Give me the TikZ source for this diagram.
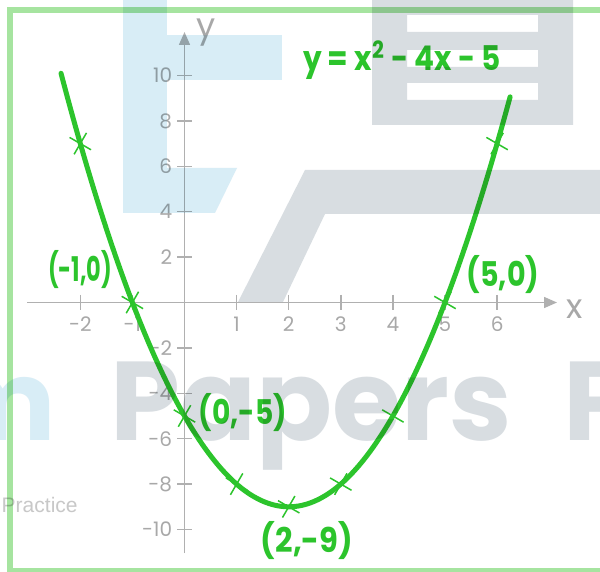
\documentclass[tikz,border=0pt]{standalone}
\usepackage{fontspec}
\setmainfont{Poppins}
\newfontfamily\arialfont{Liberation Sans}
\usetikzlibrary{arrows.meta,shapes.misc}
\definecolor{cgreen}{RGB}{44,196,44}
\definecolor{frameg}{RGB}{166,228,160}
\definecolor{axisg}{RGB}{176,176,176}
\definecolor{labg}{RGB}{168,168,168}
\definecolor{wblue}{RGB}{216,237,246}
\definecolor{wgray}{RGB}{216,221,225}
\definecolor{wtext}{RGB}{200,200,200}
\tikzset{
  axisline/.style={draw=axisg, line width=0.75pt},
  axisarrow/.style={axisline, -{Triangle[length=6.5pt,width=5.5pt]}},
  ticklab/.style={text=labg, font=\fontsize{10}{12}\selectfont, inner sep=0pt},
  axislab/.style={text=labg, font=\fontsize{17}{20}\selectfont, inner sep=0pt},
  curveline/.style={draw=cgreen, line width=2.5pt, line cap=round},
  crossmk/.style={cross out, draw=cgreen, line width=0.75pt, minimum size=8pt, inner sep=0pt, rotate=15},
  ptlab/.style={text=cgreen, font=\fontsize{17}{20}\selectfont\bfseries, inner sep=0pt},
  framebox/.style={draw=frameg, line width=3pt},
}
\begin{document}
\begin{tikzpicture}[x=0.5pt,y=-0.5pt]
\useasboundingbox (0,0) rectangle (600,572);
\clip (0,0) rectangle (600,572);
\fill[white] (0,0) rectangle (600,572);
% frame
\draw[framebox] (10,10) rectangle (620,571);
% axes
\coordinate (xs) at (27,302.5);
\coordinate (xe) at (557,302.5);
\coordinate (ys) at (184.5,553);
\coordinate (ye) at (184.5,32);
\draw[axisarrow] (xs) -- (xe);
\draw[axisarrow] (ys) -- (ye);
\node[axislab] (xlab) at (575,309) {x};
\node[axislab] (ylab) at (206,33) {y};
\begin{scope}[shift={(184.5,302.5)}, x=26.05pt, y=11.35pt]
  \foreach \i in {-2,-1,1,2,3,4,5,6}{
    \draw[axisline] (\i,0) ++(0pt,3.75pt) -- ++(0pt,-7.5pt);
    \node[ticklab] (xt\i) at (\i,0) [yshift=-11pt] {\i};
  }
  \foreach \j in {-10,-8,-6,-4,-2,2,4,6,8,10}{
    \draw[axisline] (0,\j) ++(-3.75pt,0pt) -- ++(7.5pt,0pt);
    \node[ticklab, anchor=east] (yt\j) at (0,\j) [xshift=-6pt] {\j};
  }
  \draw[curveline] plot[domain=-2.37:6.25, samples=120, smooth] (\x,{\x*\x-4*\x-5});
  \foreach \p/\q in {-2/7,-1/0,0/-5,1/-8,2/-9,3/-8,4/-5,5/0,6/7}{
    \node[crossmk] (c\p) at (\p,\q) {};
  }
\end{scope}
% point labels
\node[ptlab] (l1) at (80,270) {\scalebox{0.66}[1]{(-1,0)}};
\node[ptlab] (l2) at (503,275) {\scalebox{0.84}[1]{(5,0)}};
\node[ptlab] (l3) at (243,413) {\scalebox{0.83}[1]{(0,-5)}};
\node[ptlab] (l4) at (307,541) {\scalebox{0.9}[1]{(2,-9)}};
\node[ptlab] (eq) at (402,60) {\scalebox{0.87}[1]{y = x\textsuperscript{2} - 4x - 5}};
% watermark
\begin{scope}[blend mode=multiply]
  \fill[wblue] (123,0) rectangle (167,213);
  \fill[wblue] (167,35) rectangle (282,80);
  \fill[wblue] (167,168) -- (237,168) -- (215,213) -- (167,213) -- cycle;
  \fill[wgray] (238,302) -- (305,170) -- (600,170) -- (600,214) -- (325,214) -- (283,302) -- cycle;
  \fill[wgray, even odd rule] (372,0) rectangle (573,125)
     (407,15) rectangle (538,32) (407,50) rectangle (538,67) (407,83) rectangle (538,100);
  \node[anchor=base east, inner sep=0pt, text=wblue, font=\fontsize{56}{60}\selectfont\bfseries] (wm0) at (57,440) {m};
  \node[anchor=base west, inner sep=0pt, text=wgray, font=\fontsize{56}{60}\selectfont\bfseries] (wm1) at (110,440) {Papers};
  \node[anchor=base west, inner sep=0pt, text=wgray, font=\fontsize{56}{60}\selectfont\bfseries] (wm2) at (563,440) {P};
  \node[anchor=base east, inner sep=0pt, text=wtext, font=\arialfont\fontsize{10.5}{12}\selectfont] (wm3) at (78,512) {Practice};
\end{scope}
\end{tikzpicture}
\end{document}
